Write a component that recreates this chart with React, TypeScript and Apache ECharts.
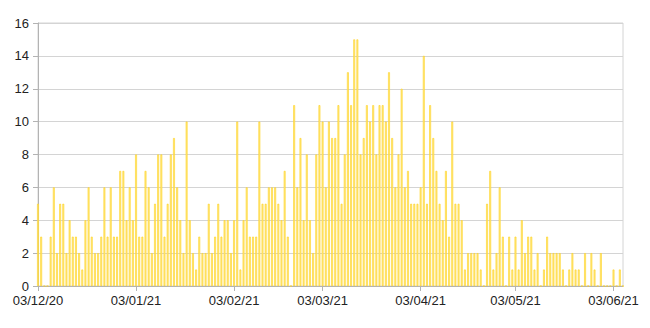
import React, { useEffect, useRef } from "react";
import * as echarts from "echarts";

const startDate = "2020-12-03";
const dayCount = 186;

const values: number[] = [
  5, 3, 0, 0, 3, 6, 2, 5, 5, 2, 4, 3, 3, 2, 1, 4, 6, 3, 2, 2, 3, 6, 3, 6, 3, 3, 7, 7, 4, 6,
  4, 8, 3, 3, 7, 6, 2, 5, 8, 8, 3, 5, 8, 9, 6, 4, 2, 10, 4, 2, 1, 3, 2, 2, 5, 2, 3, 5, 3, 4, 4,
  2, 4, 10, 1, 4, 6, 3, 3, 3, 10, 5, 5, 6, 6, 6, 5, 4, 7, 3, 0, 11, 6, 9, 4, 8, 4, 2, 8, 11,
  10, 6, 10, 9, 9, 11, 5, 8, 13, 11, 15, 15, 8, 9, 11, 10, 11, 8, 11, 11, 10, 13, 9, 6, 8, 12, 6, 7, 5,
  5, 5, 6, 14, 5, 11, 9, 7, 5, 4, 7, 3, 10, 5, 5, 4, 1, 2, 2, 2, 2, 1, 0, 5, 7, 1, 2, 6, 3,
  0, 3, 1, 3, 1, 4, 2, 3, 3, 1, 2, 0, 1, 3, 2, 2, 2, 2, 1, 0, 1, 2, 1, 1, 0, 2, 0, 2, 1, 0, 2, 0, 0, 0, 1, 0, 1, 0,
];

const yTicks = [0, 2, 4, 6, 8, 10, 12, 14, 16];

function buildCategories(): string[] {
  const out: string[] = [];
  const base = new Date(startDate + "T00:00:00Z").getTime();
  for (let i = 0; i < dayCount; i++) {
    const d = new Date(base + i * 86400000);
    const dd = String(d.getUTCDate()).padStart(2, "0");
    const mm = String(d.getUTCMonth() + 1).padStart(2, "0");
    const yy = String(d.getUTCFullYear() % 100).padStart(2, "0");
    out.push(`${dd}/${mm}/${yy}`);
  }
  return out;
}

const categories = buildCategories();

export default function App() {
  const ref = useRef<HTMLDivElement>(null);
  useEffect(() => {
    if (!ref.current) return;
    const chart = echarts.init(ref.current, undefined, { renderer: "svg" });
    const showDay = (index: number) => categories[index].startsWith("03/");
    const font = "'Liberation Sans', Arial, sans-serif";
    chart.setOption({
      animation: false,
      backgroundColor: "#ffffff",
      grid: {
        left: 38,
        right: 27,
        top: 23,
        bottom: 42,
        show: true,
        borderColor: "#d4d4d4",
        borderWidth: 1,
      },
      xAxis: {
        type: "category",
        data: categories,
        boundaryGap: false,
        axisLine: { show: true, lineStyle: { color: "#b3b3b3", width: 1 } },
        axisTick: { show: true, interval: showDay, length: 5, lineStyle: { color: "#b3b3b3" } },
        axisLabel: {
          interval: showDay,
          color: "#222",
          fontFamily: font,
          fontSize: 13,
          margin: 8,
        },
        splitLine: { show: false },
      },
      yAxis: {
        type: "value",
        min: yTicks[0],
        max: yTicks[yTicks.length - 1],
        interval: 2,
        axisLine: { show: true, lineStyle: { color: "#b3b3b3" } },
        axisTick: { show: true, length: 5, lineStyle: { color: "#b3b3b3" } },
        axisLabel: { color: "#222", fontFamily: font, fontSize: 13, margin: 9 },
        splitLine: { show: true, lineStyle: { color: "#d4d4d4", width: 1 } },
      },
      series: [
        {
          type: "bar",
          data: values,
          barWidth: 1.8,
          itemStyle: { color: "#FFEA8C", borderColor: "#FFD21A", borderWidth: 0.6 },
        },
      ],
    });
    return () => chart.dispose();
  }, []);
  return <div ref={ref} style={{ width: 650, height: 328, position: "absolute", left: 0, top: 0 }} />;
}
